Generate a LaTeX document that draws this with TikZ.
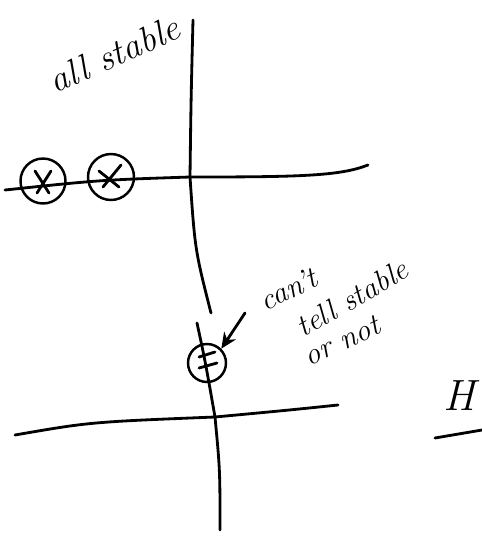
\documentclass[tikz,border=0pt]{standalone}
\usetikzlibrary{arrows.meta}
\tikzset{
  pen/.style={line width=1.6pt, line cap=round, line join=round},
  pole/.style={draw, circle, line width=1.4pt, minimum size=0.88cm, inner sep=0pt},
  note/.style={font=\LARGE\itshape, inner sep=0pt}
}
\begin{document}
\begin{tikzpicture}[x=0.02cm, y=-0.02cm]
        \useasboundingbox (0,0) rectangle (482,539);
        % upper axes
        \coordinate (uTop) at (193,20);
        \coordinate (uOrig) at (190,177);
        \coordinate (uBot) at (211,313);
        \coordinate (uLeft) at (5,190);
        \coordinate (uRight) at (368,165);
        \draw[pen] (uTop) .. controls (191,100) .. (uOrig) .. controls (195,250) .. (uBot);
        \draw[pen] (uLeft) .. controls (100,180) .. (uOrig) .. controls (300,177) and (340,176) .. (uRight);
        % the two poles
        \node[pole, minimum size=0.9cm] (p1) at (43,181) {};
        \node[pole, minimum size=0.92cm] (p2) at (111,177) {};
        \draw[pen] (p1) ++(-8,-10) -- ++(14,22);
        \draw[pen] (p1) ++(8,-10) -- ++(-14,22);
        \draw[pen] (p2) ++(-12,-6) -- ++(20,16);
        \draw[pen] (p2) ++(10,-12) -- ++(-18,22);
        \node[note, font=\huge\itshape, rotate=24] (allst) at (114,54) {all stable};
        % lower axes
        \coordinate (lTop) at (197,323);
        \coordinate (lOrig) at (215,417);
        \coordinate (lBot) at (220,530);
        \coordinate (lLeft) at (15,435);
        \coordinate (lRight) at (338,405);
        \node[pole, minimum size=0.76cm] (pz) at (207,363) {};
        \draw[pen] (lTop) .. controls (205,360) .. (lOrig) .. controls (220,470) .. (lBot);
        \draw[pen] (lLeft) .. controls (90,422) .. (lOrig) .. controls (290,410) .. (lRight);
        \draw[pen] (199,357) -- (215,352);
        \draw[pen] (199,368) -- (217,363);
        % pointer and remark
        \coordinate (tip) at (245,313);
        \draw[pen, -{Stealth[length=9pt, width=8pt]}] (tip) -- (pz.north east);
        \node[note, rotate=25] (cant) at (288,289) {can't};
        \node[note, rotate=30] (tell) at (352,298) {tell stable};
        \node[note, rotate=25] (ornot) at (342,341) {or not};
        % H at the right edge
        \node[font=\Huge\itshape, anchor=east] (hh) at (481,396) {H};
        \draw[pen] (435,438) -- (482,430);
\end{tikzpicture}
\end{document}
